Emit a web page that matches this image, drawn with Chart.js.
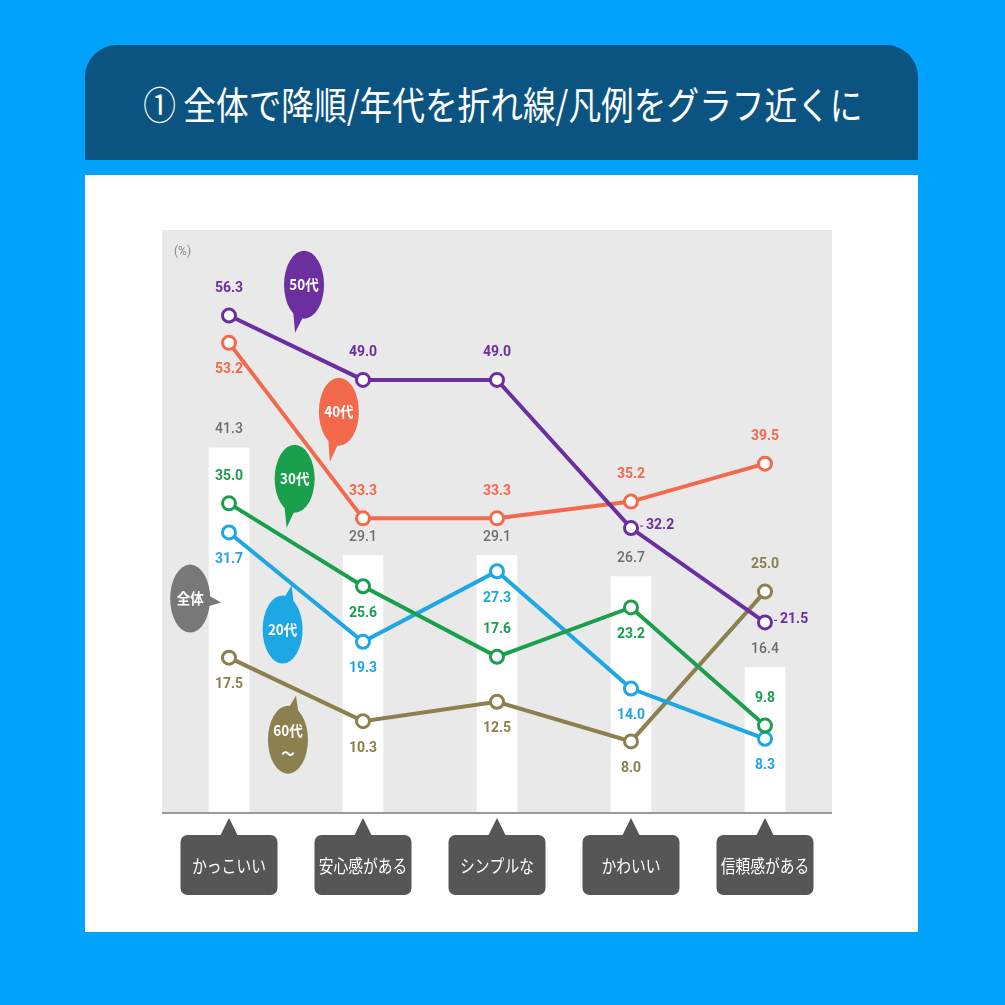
<!DOCTYPE html>
<html lang="ja">
<head>
<meta charset="utf-8">
<title>全体で降順/年代を折れ線</title>
<script src="https://cdn.jsdelivr.net/npm/chart.js@4.4.1/dist/chart.umd.min.js"></script>
<style>
  html, body { margin: 0; padding: 0; }
  body { width: 1005px; height: 1005px; background: #00a2fb; position: relative; overflow: hidden;
         font-family: "Noto Sans CJK JP", "Noto Sans", sans-serif; }
  #head { position: absolute; left: 85px; top: 45px; width: 833px; height: 115px;
          background: #0b5482; border-radius: 32px 32px 0 0; }
  #head h1 { margin: 0; color: #fff; font-weight: 400; font-size: 38px; line-height: 115px;
             text-align: center; white-space: nowrap; transform: scaleX(0.86); }
  #panel { position: absolute; left: 85px; top: 175px; width: 833px; height: 757px; background: #fff; }
</style>
</head>
<body>
<div id="head"><h1>① 全体で降順/年代を折れ線/凡例をグラフ近くに</h1></div>
<div id="panel"><canvas id="grafica"></canvas></div>
<script>
// datos
const categorias = ['かっこいい', '安心感がある', 'シンプルな', 'かわいい', '信頼感がある'];
const total = [41.3, 29.1, 29.1, 26.7, 16.4];
const edad20 = [31.7, 19.3, 27.3, 14.0, 8.3];
const edad30 = [35.0, 25.6, 17.6, 23.2, 9.8];
const edad40 = [53.2, 33.3, 33.3, 35.2, 39.5];
const edad50 = [56.3, 49.0, 49.0, 32.2, 21.5];
const edad60 = [17.5, 10.3, 12.5, 8.0, 25.0];
const yMax = 66;

// donde va cada etiqueta: a = arriba, b = abajo, r = derecha
const posEtiquetas = {
    '20代': ['b', 'b', 'b', 'b', 'b'],
    '30代': ['a', 'b', 'a', 'b', 'a'],
    '40代': ['b', 'a', 'a', 'a', 'a'],
    '50代': ['a', 'a', 'a', 'r', 'r'],
    '60代〜': ['b', 'b', 'b', 'b', 'a']
};

// burbujas de leyenda: x en indice de categoria, y en %
const burbujas = [
    { texto: '50代', color: '#6b2f9f', x: 0.56, y: 59.8, tip: [-9, 48] },
    { texto: '40代', color: '#f2694b', x: 0.82, y: 45.4, tip: [-9, 50] },
    { texto: '30代', color: '#1a9f4c', x: 0.49, y: 37.8, tip: [-8, 49] },
    { texto: '全体', color: '#787878', x: -0.29, y: 24.2, tip: [31, 4] },
    { texto: '20代', color: '#1da7e4', x: 0.40, y: 20.7, tip: [9, -44] },
    { texto: '60代\n〜', color: '#8b804e', x: 0.44, y: 8.2, tip: [8, -44] }
];

const numFont = 'bold 14px Roboto, "Noto Sans", sans-serif';

const fondo = {
    id: 'fondo',
    beforeDatasetsDraw(chart) {
        const { ctx, chartArea: a } = chart;
        ctx.save();
        ctx.fillStyle = '#e9e9e9';
        ctx.fillRect(a.left, a.top, a.right - a.left, a.bottom - a.top);
        ctx.fillStyle = '#888';
        ctx.font = '12px Roboto, sans-serif';
        ctx.textAlign = 'left';
        ctx.textBaseline = 'middle';
        ctx.fillText('(%)', a.left + 12, a.top + 22);
        ctx.restore();
    }
};

const etiquetas = {
    id: 'etiquetas',
    afterDatasetsDraw(chart) {
        const { ctx, chartArea: a, scales: { x, y } } = chart;
        ctx.save();
        // linea base
        ctx.strokeStyle = '#9a9a9a';
        ctx.lineWidth = 2;
        ctx.beginPath();
        ctx.moveTo(a.left, a.bottom + 1);
        ctx.lineTo(a.right, a.bottom + 1);
        ctx.stroke();

        ctx.textAlign = 'center';
        ctx.textBaseline = 'middle';
        chart.data.datasets.forEach((ds, di) => {
            const meta = chart.getDatasetMeta(di);
            meta.data.forEach((el, i) => {
                const v = ds.data[i].toFixed(1);
                if (ds.type === 'bar') {
                    ctx.font = '500 14px Roboto, sans-serif';
                    ctx.fillStyle = '#6e6e6e';
                    ctx.fillText(v, el.x, el.y - 18);
                    return;
                }
                ctx.font = numFont;
                ctx.fillStyle = ds.borderColor;
                const p = posEtiquetas[ds.label][i];
                if (p === 'a') ctx.fillText(v, el.x, el.y - 27);
                else if (p === 'b') ctx.fillText(v, el.x, el.y + 27);
                else {
                    ctx.strokeStyle = ds.borderColor;
                    ctx.lineWidth = 1;
                    ctx.beginPath();
                    ctx.moveTo(el.x + 9, el.y - 2);
                    ctx.lineTo(el.x + 12, el.y - 2);
                    ctx.stroke();
                    ctx.textAlign = 'left';
                    ctx.fillText(v, el.x + 15, el.y - 3);
                    ctx.textAlign = 'center';
                }
            });
        });

        // burbujas
        burbujas.forEach(b => {
            const cx = x.getPixelForValue(0) + b.x * (x.getPixelForValue(1) - x.getPixelForValue(0));
            const cy = y.getPixelForValue(b.y);
            const rx = 20, ry = 34;
            ctx.fillStyle = b.color;
            ctx.beginPath();
            ctx.ellipse(cx, cy, rx, ry, 0, 0, Math.PI * 2);
            ctx.fill();
            const [tx, ty] = b.tip;
            const ang = Math.atan2(ty / ry, tx / rx);
            const ex = cx + Math.cos(ang) * rx * 0.85, ey = cy + Math.sin(ang) * ry * 0.85;
            const nx = -Math.sin(ang) * 6, ny = Math.cos(ang) * 6;
            ctx.beginPath();
            ctx.moveTo(ex + nx, ey + ny);
            ctx.lineTo(cx + tx, cy + ty);
            ctx.lineTo(ex - nx, ey - ny);
            ctx.closePath();
            ctx.fill();
            ctx.fillStyle = '#fff';
            ctx.font = 'bold 15px "Noto Sans CJK JP", sans-serif';
            const lineas = b.texto.split('\n');
            lineas.forEach((t, k) => {
                const off = lineas.length === 1 ? 0 : (k === 0 ? -9 : 14);
                ctx.save();
                ctx.translate(cx, cy + off);
                ctx.scale(0.9, 1);
                ctx.fillText(t, 0, 0);
                ctx.restore();
            });
        });

        // etiquetas de categoria
        ctx.font = '18px "Noto Sans CJK JP", sans-serif';
        categorias.forEach((c, i) => {
            const cx = x.getPixelForValue(i);
            const top = a.bottom + 23, w = 97, h = 60, r = 7;
            ctx.fillStyle = '#565656';
            ctx.beginPath();
            ctx.moveTo(cx, a.bottom + 6);
            ctx.lineTo(cx + 9, top + 1);
            ctx.lineTo(cx - 9, top + 1);
            ctx.closePath();
            ctx.fill();
            ctx.beginPath();
            ctx.roundRect(cx - w / 2, top, w, h, r);
            ctx.fill();
            ctx.fillStyle = '#fff';
            ctx.save();
            ctx.translate(cx, top + h / 2 + 1);
            ctx.scale(0.82, 1);
            ctx.fillText(c, 0, 0);
            ctx.restore();
        });
        ctx.restore();
    }
};

const serie = (label, data, color) => ({
    type: 'line',
    label: label,
    data: data,
    borderColor: color,
    borderWidth: 4,
    pointRadius: 6.5,
    pointBorderWidth: 3,
    pointBackgroundColor: '#fff',
    pointBorderColor: color,
    tension: 0
});

const ctx = document.getElementById('grafica').getContext('2d');
const myChart = new Chart(ctx, {
    type: 'bar',
    data: {
        labels: categorias,
        datasets: [
            serie('50代', edad50, '#6b2f9f'),
            serie('40代', edad40, '#f2694b'),
            serie('30代', edad30, '#1a9f4c'),
            serie('20代', edad20, '#1da7e4'),
            serie('60代〜', edad60, '#8b804e'),
            {
                type: 'bar',
                label: '全体',
                data: total,
                backgroundColor: '#ffffff',
                barThickness: 40,
                order: 10
            }
        ]
    },
    options: {
        responsive: true,
        maintainAspectRatio: false,
        animation: false,
        layout: { padding: { left: 77, right: 86, top: 55, bottom: 120 } },
        scales: {
            x: { display: false, offset: true },
            y: { display: false, min: 0, max: yMax }
        },
        plugins: {
            legend: { display: false },
            tooltip: { enabled: false }
        }
    },
    plugins: [fondo, etiquetas]
});
</script>
</body>
</html>
